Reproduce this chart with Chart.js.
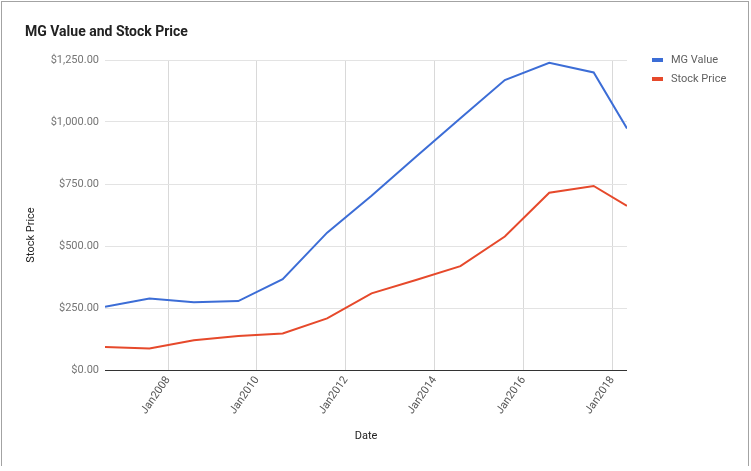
<!DOCTYPE html>
<html>
<head>
<meta charset="utf-8">
<script src="https://cdn.jsdelivr.net/npm/chart.js@4/dist/chart.umd.min.js"></script>
<style>
html,body{margin:0;padding:0;background:#fff;width:751px;height:471px;overflow:hidden;}
#wrap{position:absolute;left:0;top:0;width:751px;height:471px;}
#frame{position:absolute;left:1px;top:1px;width:746px;height:464px;border:1px solid #a3a3a3;border-bottom:none;pointer-events:none;}
</style>
</head>
<body>
<div id="wrap"><canvas id="c" width="751" height="471"></canvas></div>
<div id="frame"></div>
<script>
const chartTitle = 'MG Value and Stock Price';
const xAxisTitle = 'Date';
const yAxisTitle = 'Stock Price';
const seriesNames = ['MG Value', 'Stock Price'];
// decimal years of each data point
const dates = [2006.58, 2007.58, 2008.58, 2009.58, 2010.58, 2011.58, 2012.58, 2013.58, 2014.58, 2015.58, 2016.58, 2017.58, 2018.33];
const mgValue = [255, 288, 273, 278, 366, 554, 703, 860, 1015, 1169, 1239, 1200, 974];
const stockPrice = [93, 87, 120, 137, 147, 208, 309, 363, 419, 538, 715, 742, 662];
const xTickValues = [2008, 2010, 2012, 2014, 2016, 2018];
const xTickLabels = ['Jan2008', 'Jan2010', 'Jan2012', 'Jan2014', 'Jan2016', 'Jan2018'];
const yTickValues = [0, 250, 500, 750, 1000, 1250];
const seriesColors = ['#3c6dd6', '#e6492b'];

function fmtMoney(v){
  return '$' + Number(v).toLocaleString('en-US', {minimumFractionDigits:2, maximumFractionDigits:2});
}

const overlay = {
  id: 'overlay',
  afterDraw(chart){
    const ctx = chart.ctx;
    ctx.save();
    ctx.textBaseline = 'middle';
    ctx.textAlign = 'left';
    ctx.font = 'bold 14px Roboto';
    ctx.fillStyle = '#222';
    ctx.fillText(chartTitle, 25, 32);
    ctx.font = '11px Roboto';
    chart.data.datasets.forEach((ds, i) => {
      const y = 60 + i * 19;
      ctx.fillStyle = ds.borderColor;
      ctx.fillRect(652, y - 2, 11, 4);
      ctx.fillStyle = '#616161';
      ctx.fillText(ds.label, 671, y);
    });
    ctx.translate(31, 235);
    ctx.rotate(-Math.PI / 2);
    ctx.textAlign = 'center';
    ctx.fillStyle = '#222';
    ctx.fillText(yAxisTitle, 0, 0);
    ctx.restore();
  }
};

function build(){
  const mk = (arr) => dates.map((d, i) => ({x: d, y: arr[i]}));
  new Chart(document.getElementById('c'), {
    type: 'line',
    data: {
      datasets: [
        {label: seriesNames[0], data: mk(mgValue), borderColor: seriesColors[0], backgroundColor: seriesColors[0], borderWidth: 2, pointRadius: 0, tension: 0},
        {label: seriesNames[1], data: mk(stockPrice), borderColor: seriesColors[1], backgroundColor: seriesColors[1], borderWidth: 2, pointRadius: 0, tension: 0}
      ]
    },
    options: {
      responsive: false,
      animation: false,
      layout: {padding: {top: 60, right: 124, left: 0, bottom: 0}},
      plugins: {legend: {display: false}, title: {display: false}, tooltip: {enabled: false}},
      scales: {
        x: {
          type: 'linear',
          min: dates[0],
          max: dates[dates.length - 1],
          afterBuildTicks: (s) => { s.ticks = xTickValues.map(v => ({value: v})); },
          afterFit: (s) => { s.height = 101; },
          ticks: {
            autoSkip: false, minRotation: 55, maxRotation: 55, padding: 4,
            color: '#555', font: {family: 'Roboto', size: 11},
            callback: (v) => { const i = xTickValues.indexOf(v); return i >= 0 ? xTickLabels[i] : ''; }
          },
          grid: {color: '#d9d9d9', drawTicks: false},
          border: {display: false},
          title: {display: true, text: xAxisTitle, color: '#222', font: {family: 'Roboto', size: 11}, padding: {top: 0, bottom: 28}}
        },
        y: {
          min: 0,
          max: 1250,
          afterBuildTicks: (s) => { s.ticks = yTickValues.map(v => ({value: v})); },
          afterFit: (s) => { s.width = 105; },
          ticks: {padding: 6, color: '#757575', font: {family: 'Roboto', size: 11}, callback: (v) => fmtMoney(v)},
          grid: {color: (c) => (c.tick && c.tick.value === 0) ? '#333' : '#e3e3e3', drawTicks: false},
          border: {display: false}
        }
      }
    },
    plugins: [overlay]
  });
}
if (document.fonts && document.fonts.load) {
  Promise.all([document.fonts.load('11px Roboto'), document.fonts.load('bold 14px Roboto')]).then(build, build);
} else { build(); }
</script>
</body>
</html>
